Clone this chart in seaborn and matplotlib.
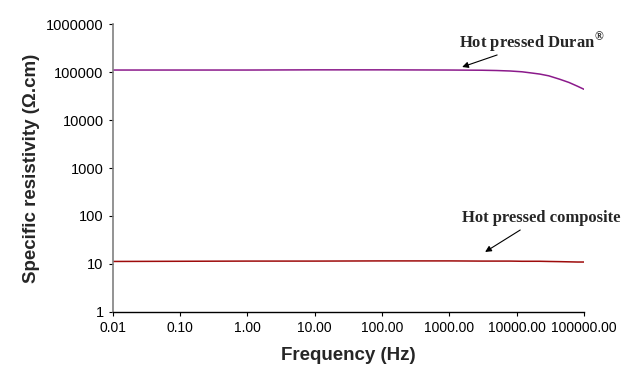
import numpy as np
import pandas as pd
import matplotlib
matplotlib.use("Agg")
import matplotlib.pyplot as plt
import seaborn as sns

# Data
freq = [0.01, 0.1, 1, 10, 100, 1000, 3000, 5000, 8000, 12000, 16000, 22000,
        30000, 44000, 60000, 80000, 100000]
duran = [111000, 111000, 111000, 112000, 112000, 111000, 110000, 108500, 106000,
         102000, 97000, 91500, 84000, 71000, 61000, 51000, 44000]
composite = [11.2, 11.3, 11.4, 11.4, 11.5, 11.5, 11.4, 11.4, 11.4, 11.3, 11.3,
             11.3, 11.2, 11.1, 11.0, 10.9, 10.9]
series_names = ["Hot pressed Duran", "Hot pressed composite"]
colors = ["#8B1A8B", "#9E0B0B"]
xtick_vals = [0.01, 0.1, 1, 10, 100, 1000, 10000, 100000]
xtick_labels = ["0.01", "0.10", "1.00", "10.00", "100.00", "1000.00", "10000.00", "100000.00"]
ytick_vals = [1, 10, 100, 1000, 10000, 100000, 1000000]
ytick_labels = ["1", "10", "100", "1000", "10000", "100000", "1000000"]

df = pd.DataFrame({
    "freq": freq * 2,
    "res": duran + composite,
    "series": [series_names[0]] * len(freq) + [series_names[1]] * len(freq),
})

sns.set_style("white")
plt.rcParams["font.family"] = ["Liberation Sans", "DejaVu Sans"]
plt.rcParams["mathtext.fontset"] = "custom"
plt.rcParams["mathtext.rm"] = "Liberation Serif:bold"
plt.rcParams["mathtext.bf"] = "Liberation Serif:bold"

fig = plt.figure(figsize=(6.44, 3.66), dpi=100)
ax = fig.add_axes([0.175, 0.1483, 0.7318, 0.7853])

sns.lineplot(data=df, x="freq", y="res", hue="series", palette=colors,
             linewidth=1.1, ax=ax, legend=False)
ax.set_xscale("log")
ax.set_yscale("log")
ax.set_xlim(0.01, 100000)
ax.set_ylim(1, 1000000)
ax.set_xticks(xtick_vals)
ax.set_xticklabels(xtick_labels)
ax.set_yticks(ytick_vals)
ax.set_yticklabels(ytick_labels)
ax.minorticks_off()

for s in ["top", "right"]:
    ax.spines[s].set_visible(False)
ax.spines["left"].set_color("#808080")
ax.spines["left"].set_linewidth(1.2)
ax.spines["bottom"].set_color("black")
ax.spines["bottom"].set_linewidth(1.0)
ax.tick_params(axis="both", which="major", direction="out", length=3, width=0.8,
               colors="black", pad=3.5, bottom=True, left=True)
ax.tick_params(axis="x", labelsize=10)
ax.tick_params(axis="y", labelsize=10.5)

ax.set_xlabel("Frequency (Hz)", fontsize=13.5, fontweight="bold", labelpad=9)
ax.set_ylabel("Specific resistivity (Ω.cm)", fontsize=13.5, fontweight="bold", labelpad=4)

serif = ["Liberation Serif", "DejaVu Serif"]
arrow = dict(arrowstyle="-|>", color="black", lw=0.8, mutation_scale=9,
             shrinkA=0, shrinkB=0)
ax.text(17000, 407000, "Hot pressed Duran$^{®}$", ha="center", va="center",
        fontsize=12, fontweight="bold", family=serif)
ax.annotate("", xy=(1550, 128500), xytext=(5130, 229000), arrowprops=arrow)
ax.text(23100, 91, "Hot pressed composite", ha="center", va="center",
        fontsize=12, fontweight="bold", family=serif)
ax.annotate("", xy=(3400, 17.7), xytext=(11300, 50.8), arrowprops=arrow)

fig.savefig("out.png", dpi=100)
